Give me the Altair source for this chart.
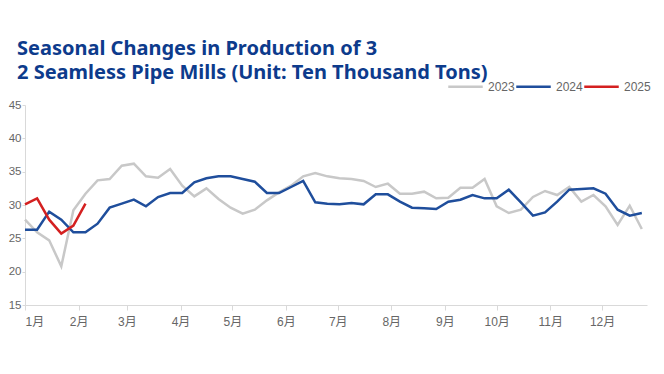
import altair as alt
import pandas as pd

# ---- data (weekly values, week index 0..51) ----
years = ["2023", "2024", "2025"]
colors = ["#c8c8c8", "#1f4e9c", "#d42020"]

v2023 = [27.8, 25.9, 24.7, 20.8, 29.2, 31.7, 33.7, 33.9, 35.9, 36.2,
         34.3, 34.1, 35.4, 32.9, 31.3, 32.5, 30.9, 29.6, 28.7, 29.3,
         30.7, 31.9, 32.9, 34.3, 34.8, 34.3, 34.0, 33.9, 33.6, 32.7,
         33.2, 31.7, 31.7, 32.0, 31.0, 31.1, 32.6, 32.6, 33.9, 29.8,
         28.8, 29.3, 31.2, 32.1, 31.5, 32.7, 30.5, 31.5, 29.8, 27.0,
         29.9, 26.4]
v2024 = [26.3, 26.3, 29.0, 27.8, 25.9, 25.9, 27.2, 29.6, 30.2, 30.8,
         29.8, 31.2, 31.8, 31.8, 33.4, 34.0, 34.3, 34.3, 33.9, 33.5,
         31.8, 31.8, 32.7, 33.6, 30.4, 30.2, 30.1, 30.3, 30.1, 31.6,
         31.6, 30.5, 29.6, 29.5, 29.4, 30.5, 30.8, 31.5, 31.0, 31.0,
         32.3, 30.4, 28.4, 28.9, 30.5, 32.3, 32.4, 32.5, 31.7, 29.3,
         28.4, 28.8]
v2025 = [30.1, 31.0, 27.8, 25.7, 26.9, 30.2]

month_start_days = [0, 31, 59, 90, 120, 151, 181, 212, 243, 273, 304, 334]
month_labels = ["1月", "2月", "3月", "4月", "5月", "6月",
                "7月", "8月", "9月", "10月", "11月", "12月"]
y_ticks = [15, 20, 25, 30, 35, 40, 45]

title_lines = ["Seasonal Changes in Production of 3",
               "2 Seamless Pipe Mills (Unit: Ten Thousand Tons)"]

rows = []
for yr, vals in zip(years, [v2023, v2024, v2025]):
    for i, v in enumerate(vals):
        rows.append({"year": yr, "day": i * 7, "value": v, "order": i})
df = pd.DataFrame(rows)

label_expr = ("[" + ",".join("'%s'" % m for m in month_labels) + "]"
              "[indexof([" + ",".join(str(d) for d in month_start_days) + "], datum.value)]")

chart = alt.Chart(df).mark_line(strokeWidth=2.5).encode(
    x=alt.X("day:Q",
            scale=alt.Scale(domain=[0, 360], nice=False, zero=False),
            axis=alt.Axis(values=month_start_days, labelExpr=label_expr,
                          title=None, grid=False, tickSize=5,
                          labelPadding=6, labelFontSize=12,
                          labelFont="Liberation Sans, Noto Sans CJK SC")),
    y=alt.Y("value:Q",
            scale=alt.Scale(domain=[15, 45], nice=False, zero=False),
            axis=alt.Axis(values=y_ticks, title=None, grid=False, tickSize=3,
                          labelPadding=1, labelFontSize=11.5,
                          labelFont="Liberation Sans")),
    color=alt.Color("year:N",
                    scale=alt.Scale(domain=years, range=colors),
                    legend=alt.Legend(title=None, orient="none", direction="horizontal",
                                      legendX=422, legendY=-37,
                                      symbolType="stroke", symbolSize=1190,
                                      symbolStrokeWidth=2.5, labelFontSize=12,
                                      labelFont="Liberation Sans", labelColor="#666666",
                                      labelOffset=4, columnPadding=-4)),
    order="order:Q",
).properties(
    width=622,
    height=200,
    autosize=alt.AutoSizeParams(type="none"),
    padding={"left": 17, "top": 97, "right": 9, "bottom": 45},
    title=alt.TitleParams(text=title_lines, anchor="start", frame="group",
                          dx=-8, dy=15, offset=0, fontSize=20, font="Noto Sans",
                          fontWeight="bold", color="#0d3b8c", lineHeight=24),
).configure_view(
    stroke=None
).configure_axis(
    domainColor="#d9d9d9", tickColor="#d9d9d9", labelColor="#666666"
)

chart.save("out.html", embed_options={"renderer": "svg", "actions": False})
